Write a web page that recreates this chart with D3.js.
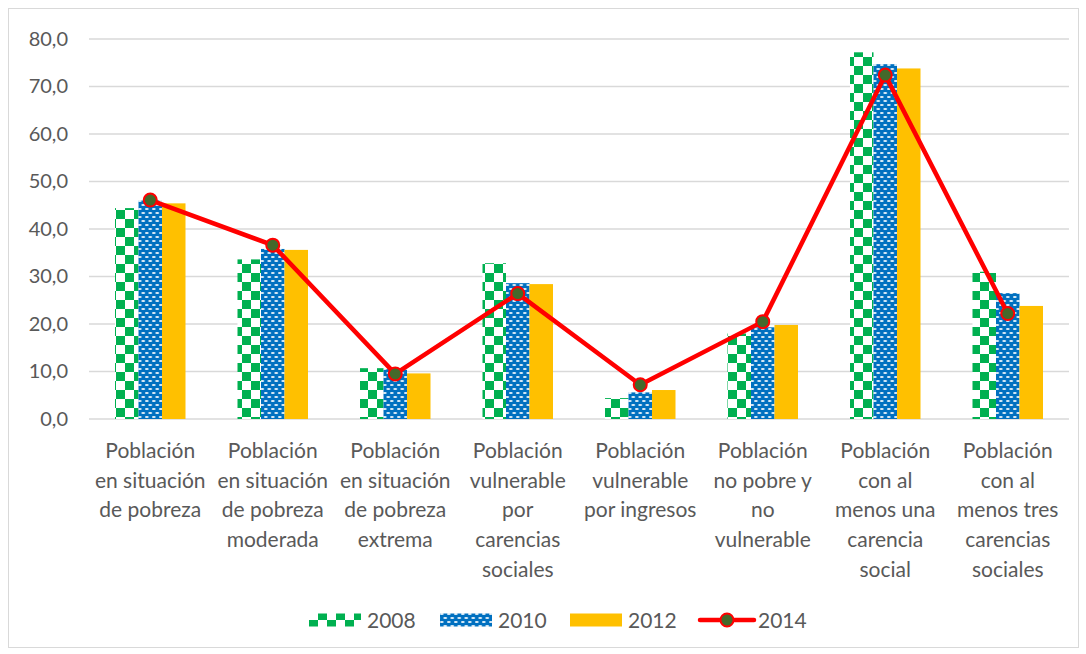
<!DOCTYPE html>
<html>
<head>
<meta charset="utf-8">
<script src="https://cdn.jsdelivr.net/npm/d3@7"></script>
<style>
  body { margin: 0; background: #fff; }
  svg text { font-family: Lato, "Open Sans", sans-serif; fill: #595959; }
</style>
</head>
<body>
<div id="chart"></div>
<script>
// data
var categories = [
	["Población", "en situación", "de pobreza"],
	["Población", "en situación", "de pobreza", "moderada"],
	["Población", "en situación", "de pobreza", "extrema"],
	["Población", "vulnerable", "por", "carencias", "sociales"],
	["Población", "vulnerable", "por ingresos"],
	["Población", "no pobre y", "no", "vulnerable"],
	["Población", "con al", "menos una", "carencia", "social"],
	["Población", "con al", "menos tres", "carencias", "sociales"]
];
var years = ["2008", "2010", "2012", "2014"];
var values2008 = [44.4, 33.6, 10.7, 32.8, 4.4, 18.0, 77.2, 31.0];
var values2010 = [46.0, 35.8, 10.5, 28.6, 5.6, 19.3, 74.7, 26.5];
var values2012 = [45.4, 35.6, 9.6, 28.4, 6.1, 19.8, 73.8, 23.8];
var values2014 = [46.1, 36.6, 9.5, 26.4, 7.2, 20.5, 72.4, 22.2];
var yTicks = [0, 10, 20, 30, 40, 50, 60, 70, 80];

(function () {
	var width = 1086, height = 654;
	var margin = { top: 39, right: 17, bottom: 235, left: 89 };
	var innerW = width - margin.left - margin.right;
	var innerH = height - margin.top - margin.bottom;

	var svg = d3.select('#chart').append('svg')
		.attr('width', width).attr('height', height);

	// patterns for 2008 and 2010
	var defs = svg.append('defs');
	var checker = defs.append('pattern')
		.attr('id', 'checker').attr('patternUnits', 'userSpaceOnUse')
		.attr('width', 18).attr('height', 18);
	checker.append('rect').attr('width', 18).attr('height', 18).attr('fill', '#fff');
	checker.append('rect').attr('width', 9).attr('height', 9).attr('fill', '#00B050');
	checker.append('rect').attr('x', 9).attr('y', 9).attr('width', 9).attr('height', 9).attr('fill', '#00B050');

	var dots = defs.append('pattern')
		.attr('id', 'dots').attr('patternUnits', 'userSpaceOnUse')
		.attr('width', 7).attr('height', 8);
	dots.append('rect').attr('width', 7).attr('height', 8).attr('fill', '#0070C0');
	[[1.75, 2], [5.25, 6], [-1.75, 6], [8.75, 6]].forEach(function (p) {
		dots.append('ellipse').attr('cx', p[0]).attr('cy', p[1])
			.attr('rx', 2).attr('ry', 0.9).attr('fill', '#fff').attr('opacity', 0.9);
	});

	// chart area border
	svg.append('rect')
		.attr('x', 8.5).attr('y', 8.5).attr('width', 1070).attr('height', 639)
		.attr('fill', 'none').attr('stroke', '#d9d9d9');

	var g = svg.append('g').attr('transform', 'translate(' + [margin.left, margin.top] + ')');

	var x = d3.scaleBand().domain(d3.range(categories.length)).range([0, innerW]);
	var y = d3.scaleLinear().domain([0, 80]).range([innerH, 0]);
	var barW = 23.5;

	// gridlines
	g.selectAll('.grid').data(yTicks).enter().append('line')
		.attr('x1', 0).attr('x2', innerW)
		.attr('y1', d => y(d)).attr('y2', d => y(d))
		.attr('stroke', '#d9d9d9').attr('stroke-width', 1.3);

	var yAxis = g.append('g').call(d3.axisLeft(y).tickValues(yTicks)
		.tickFormat(d => d3.format('.1f')(d).replace('.', ',')).tickSize(0).tickPadding(21));
	yAxis.select('.domain').remove();
	yAxis.selectAll('text').style('font-size', '20px').style('fill', '#595959')
		.style('font-family', 'Lato, sans-serif');

	// bars
	var series = [
		{ vals: values2008, fill: 'url(#checker)', off: -1.5 },
		{ vals: values2010, fill: 'url(#dots)', off: -0.5 },
		{ vals: values2012, fill: '#FFC000', off: 0.5 }
	];
	series.forEach(function (s) {
		g.append('g').selectAll('rect').data(s.vals).enter().append('rect')
			.attr('x', (d, i) => x(i) + x.bandwidth() / 2 + s.off * barW)
			.attr('y', d => y(d))
			.attr('width', barW)
			.attr('height', d => innerH - y(d))
			.attr('fill', s.fill);
	});

	// 2014 line
	var line = d3.line()
		.x((d, i) => x(i) + x.bandwidth() / 2)
		.y(d => y(d));
	g.append('path').datum(values2014)
		.attr('d', line)
		.attr('fill', 'none').attr('stroke', '#FF0000')
		.attr('stroke-width', 4.5).attr('stroke-linejoin', 'round');
	g.append('g').selectAll('circle').data(values2014).enter().append('circle')
		.attr('cx', (d, i) => x(i) + x.bandwidth() / 2)
		.attr('cy', d => y(d))
		.attr('r', 6.5)
		.attr('fill', '#44692B').attr('stroke', '#FF0000').attr('stroke-width', 2);

	// category labels
	var labels = g.append('g').selectAll('text').data(categories).enter().append('text')
		.attr('x', (d, i) => x(i) + x.bandwidth() / 2)
		.attr('y', innerH + 39)
		.attr('text-anchor', 'middle')
		.style('font-size', '21px');
	labels.selectAll('tspan').data(d => d).enter().append('tspan')
		.attr('x', function () { return this.parentNode.getAttribute('x'); })
		.attr('dy', (d, i) => i === 0 ? 0 : 29.7)
		.text(d => d);

	// legend
	var legend = svg.append('g').attr('transform', 'translate(0,620)');
	var legendX = [309, 440, 570, 699];
	var legendFill = ['url(#checker)', 'url(#dots)', '#FFC000'];
	years.forEach(function (yr, i) {
		var lg = legend.append('g').attr('transform', 'translate(' + legendX[i] + ',0)');
		if (i < 3) {
			lg.append('rect').attr('x', 0).attr('y', -6.5).attr('width', 52).attr('height', 13)
				.attr('fill', legendFill[i]);
		} else {
			lg.append('line').attr('x1', 1).attr('x2', 55).attr('y1', 0).attr('y2', 0)
				.attr('stroke', '#FF0000').attr('stroke-width', 4.5).attr('stroke-linecap', 'round');
			lg.append('circle').attr('cx', 28).attr('cy', 0).attr('r', 6.5)
				.attr('fill', '#44692B').attr('stroke', '#FF0000').attr('stroke-width', 2);
		}
		lg.append('text').attr('x', i < 3 ? 58 : 59).attr('y', 7.5)
			.style('font-size', '21px').text(yr);
	});
})();
</script>
</body>
</html>
